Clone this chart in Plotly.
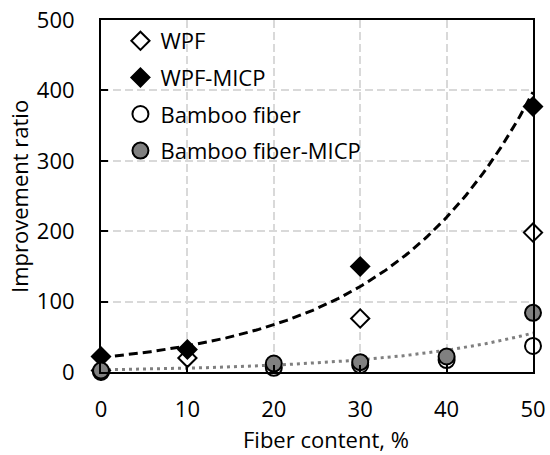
import numpy as np
import plotly.graph_objects as go

# ---- data ----
wpf_x = [0, 10, 30, 50]
wpf_y = [2, 20, 76, 198]

wpf_micp_x = [0, 10, 30, 50]
wpf_micp_y = [22, 32, 150, 377]

bamboo_x = [0, 20, 30, 40, 50]
bamboo_y = [0, 6, 10, 17, 37]

bamboo_micp_x = [0, 20, 30, 40, 50]
bamboo_micp_y = [2, 12, 14, 22, 84]

# exponential trend lines y = a*exp(b*x)
trend_wpf_micp = (20.5, 0.0593)
trend_bamboo = (3.0, 0.0583)

x_ticks = [0, 10, 20, 30, 40, 50]
y_ticks = [0, 100, 200, 300, 400, 500]

FONT = "'Open Sans', sans-serif"
FS = 22

xs = np.linspace(0, 50, 201)

fig = go.Figure()

a, b = trend_wpf_micp
fig.add_trace(go.Scatter(x=xs, y=a * np.exp(b * xs), mode="lines",
                         line=dict(color="black", width=3, dash="9px,5px"),
                         showlegend=False, hoverinfo="skip", cliponaxis=False))
a, b = trend_bamboo
fig.add_trace(go.Scatter(x=xs, y=a * np.exp(b * xs), mode="lines",
                         line=dict(color="#7f7f7f", width=3, dash="3px,4px"),
                         showlegend=False, hoverinfo="skip", cliponaxis=False))

fig.add_trace(go.Scatter(x=wpf_x, y=wpf_y, mode="markers", name="WPF",
                         legendgroup="a",
                         marker=dict(symbol="diamond", size=14, color="white",
                                     line=dict(color="black", width=2)),
                         cliponaxis=False))
fig.add_trace(go.Scatter(x=wpf_micp_x, y=wpf_micp_y, mode="markers", name="WPF-MICP",
                         legendgroup="b",
                         marker=dict(symbol="diamond", size=14, color="black",
                                     line=dict(color="black", width=2)),
                         cliponaxis=False))
fig.add_trace(go.Scatter(x=bamboo_x, y=bamboo_y, mode="markers", name="Bamboo fiber",
                         legendgroup="c",
                         marker=dict(symbol="circle", size=16, color="white",
                                     line=dict(color="black", width=2)),
                         cliponaxis=False))
fig.add_trace(go.Scatter(x=bamboo_micp_x, y=bamboo_micp_y, mode="markers",
                         name="Bamboo fiber-MICP", legendgroup="d",
                         marker=dict(symbol="circle", size=16, color="#808080",
                                     line=dict(color="black", width=2)),
                         cliponaxis=False))

axis_common = dict(showline=True, linecolor="black", linewidth=2, mirror=True,
                   ticks="inside", ticklen=7, tickwidth=2, tickcolor="black",
                   showgrid=True, gridcolor="#d9d9d9", gridwidth=1.5,
                   griddash="8px,4px", zeroline=False, automargin=False,
                   ticklabeloverflow="allow",
                   tickfont=dict(family=FONT, size=FS, color="black"))

fig.update_xaxes(range=[0, 50], tickvals=x_ticks, ticktext=[str(v) for v in x_ticks],
                 ticklabelstandoff=17, **axis_common)
fig.update_yaxes(range=[0, 500], tickvals=y_ticks, ticktext=[str(v) for v in y_ticks],
                 ticklabelstandoff=20, **axis_common)

fig.add_annotation(text="Fiber content, %", xref="paper", yref="paper",
                   x=(326 - 101) / 432, y=-(439 - 372) / 352, showarrow=False,
                   xanchor="center", yanchor="middle",
                   font=dict(family=FONT, size=FS, color="black"))
fig.add_annotation(text="Improvement ratio", xref="paper", yref="paper",
                   x=-(101 - 19) / 432, y=(372 - 197) / 352, showarrow=False,
                   textangle=-90, xanchor="center", yanchor="middle",
                   font=dict(family=FONT, size=FS, color="black"))

fig.update_layout(
    width=550, height=455,
    margin=dict(l=101, r=17, t=20, b=83, autoexpand=False),
    paper_bgcolor="white", plot_bgcolor="white",
    showlegend=True,
    legend=dict(x=0.045, y=1.0, xanchor="left", yanchor="top",
                bgcolor="rgba(0,0,0,0)", tracegroupgap=5,
                font=dict(family=FONT, size=FS, color="black"),
                itemsizing="trace"),
)

fig.write_html("out.html", config={"displayModeBar": False},
               post_script="document.body.style.margin='0px';document.body.style.overflow='hidden';")
